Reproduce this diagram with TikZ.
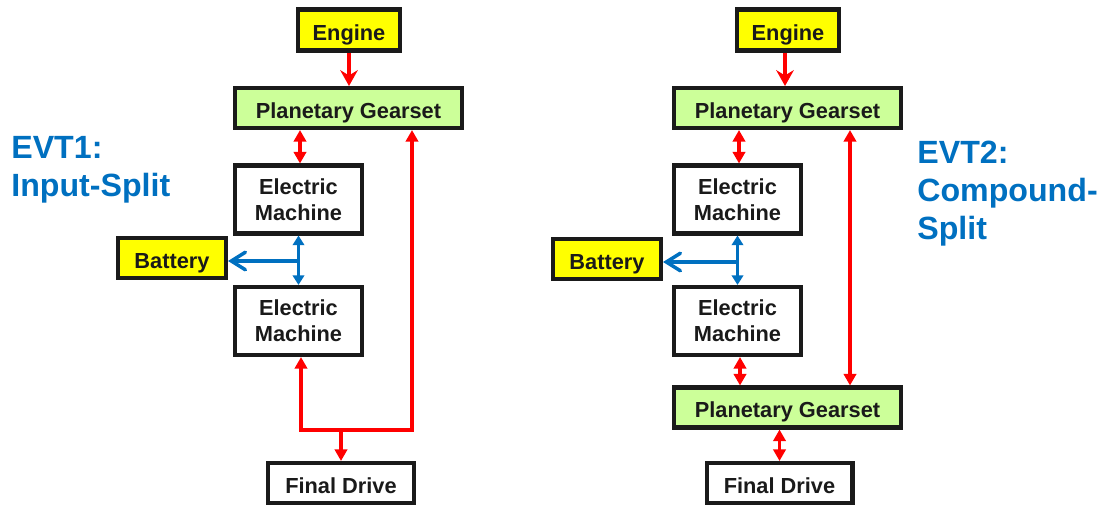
\documentclass[tikz,border=0pt]{standalone}
\usepackage{fontspec}
\setmainfont{Liberation Sans}
\usetikzlibrary{arrows.meta}
\definecolor{evtblue}{RGB}{0,112,192}
\definecolor{pgreen}{RGB}{204,255,153}
\definecolor{eyellow}{RGB}{255,255,0}
\definecolor{fred}{RGB}{255,0,0}
\definecolor{frame}{RGB}{26,26,26}

\begin{document}
\begin{tikzpicture}[x=0.02cm,y=-0.02cm,
  box/.style={draw=frame,line width=2.3pt,fill=white,inner sep=0pt,
    text=frame,align=center,font=\fontsize{12.4}{14.8}\selectfont\bfseries},
  onebox/.style={box,text height=1.4em,text depth=0.21em},
  engbox/.style={onebox,fill=eyellow,minimum width=2.04cm,minimum height=0.82cm},
  batbox/.style={onebox,fill=eyellow,minimum width=2.16cm,minimum height=0.80cm},
  pgbox/.style={onebox,fill=pgreen,minimum width=4.54cm,minimum height=0.80cm},
  embox/.style={box,minimum width=2.54cm,minimum height=1.36cm},
  fdbox/.style={onebox,minimum width=2.92cm,minimum height=0.80cm},
  redline/.style={fred,line width=1.9pt},
  blueline/.style={evtblue,line width=2pt},
  title/.style={evtblue,anchor=north west,inner sep=0pt,align=left,
    font=\fontsize{18.3}{21.6}\selectfont\bfseries},
  >={Triangle[length=6.6pt,width=7pt]}]
  \clip (0,0) rectangle (1104,504);

  % EVT1
  \node[title] (t1) at (11,136) {EVT1:\\Input-Split};
  \node[engbox] (eng1) at (349,30) {Engine};
  \node[pgbox] (pg1) at (348.5,108) {Planetary Gearset};
  \node[embox] (ema1) at (298.5,199.5) {Electric\\Machine};
  \node[batbox] (bat1) at (172,258) {Battery};
  \node[embox] (emb1) at (298.5,321) {Electric\\Machine};
  \node[fdbox] (fd1) at (341,483) {Final Drive};
  \coordinate (j1) at (298.5,261);
  \coordinate (b1) at (341,430);
  \coordinate (r1) at (412,430);

  \draw[redline,-{Stealth[length=9pt,width=10pt,inset=3pt]}] (eng1.south) -- (eng1.south |- pg1.north);
  \draw[redline,<->] ([xshift=0.03cm]ema1.north) -- ([xshift=0.03cm]ema1.north |- pg1.south);
  \draw[blueline,{Triangle[length=5.5pt,width=6.5pt]}-{Triangle[length=5.5pt,width=6.5pt]}] (ema1.south) -- (emb1.north);
  \draw[blueline,-{Straight Barb[length=8pt,width=10pt,line cap=round]}] (j1) -- (j1 -| bat1.east);
  \draw[redline,<->] ([xshift=0.05cm]emb1.south) |- (r1) -- (r1 |- pg1.south);
  \draw[redline,->] (b1) -- (fd1.north);

  % EVT2
  \node[title] (t2) at (917,141) {EVT2:\\Compound-\\Split};
  \node[engbox] (eng2) at (788,30) {Engine};
  \node[pgbox] (pga2) at (787.5,108) {Planetary Gearset};
  \node[embox] (ema2) at (737.5,199.5) {Electric\\Machine};
  \node[batbox] (bat2) at (607,259) {Battery};
  \node[embox] (emb2) at (737.5,321) {Electric\\Machine};
  \node[pgbox] (pgb2) at (787.5,407.5) {Planetary Gearset};
  \node[fdbox] (fd2) at (779.5,483) {Final Drive};
  \coordinate (j2) at (737.5,262);

  \draw[redline,-{Stealth[length=9pt,width=10pt,inset=3pt]}] ([xshift=-0.06cm]eng2.south) -- ([xshift=-0.06cm]eng2.south |- pga2.north);
  \draw[redline,<->] ([xshift=0.03cm]ema2.north) -- ([xshift=0.03cm]ema2.north |- pga2.south);
  \draw[blueline,{Triangle[length=5.5pt,width=6.5pt]}-{Triangle[length=5.5pt,width=6.5pt]}] (ema2.south) -- (emb2.north);
  \draw[blueline,-{Straight Barb[length=8pt,width=10pt,line cap=round]}] (j2) -- (j2 -| bat2.east);
  \draw[redline,<->] ([xshift=0.05cm]emb2.south) -- ([xshift=0.05cm]emb2.south |- pgb2.north);
  \draw[redline,<->] ([xshift=1.25cm]pga2.south) -- ([xshift=1.25cm]pgb2.north);
  \draw[redline,<->] (fd2.north |- pgb2.south) -- (fd2.north);
\end{tikzpicture}
\end{document}
